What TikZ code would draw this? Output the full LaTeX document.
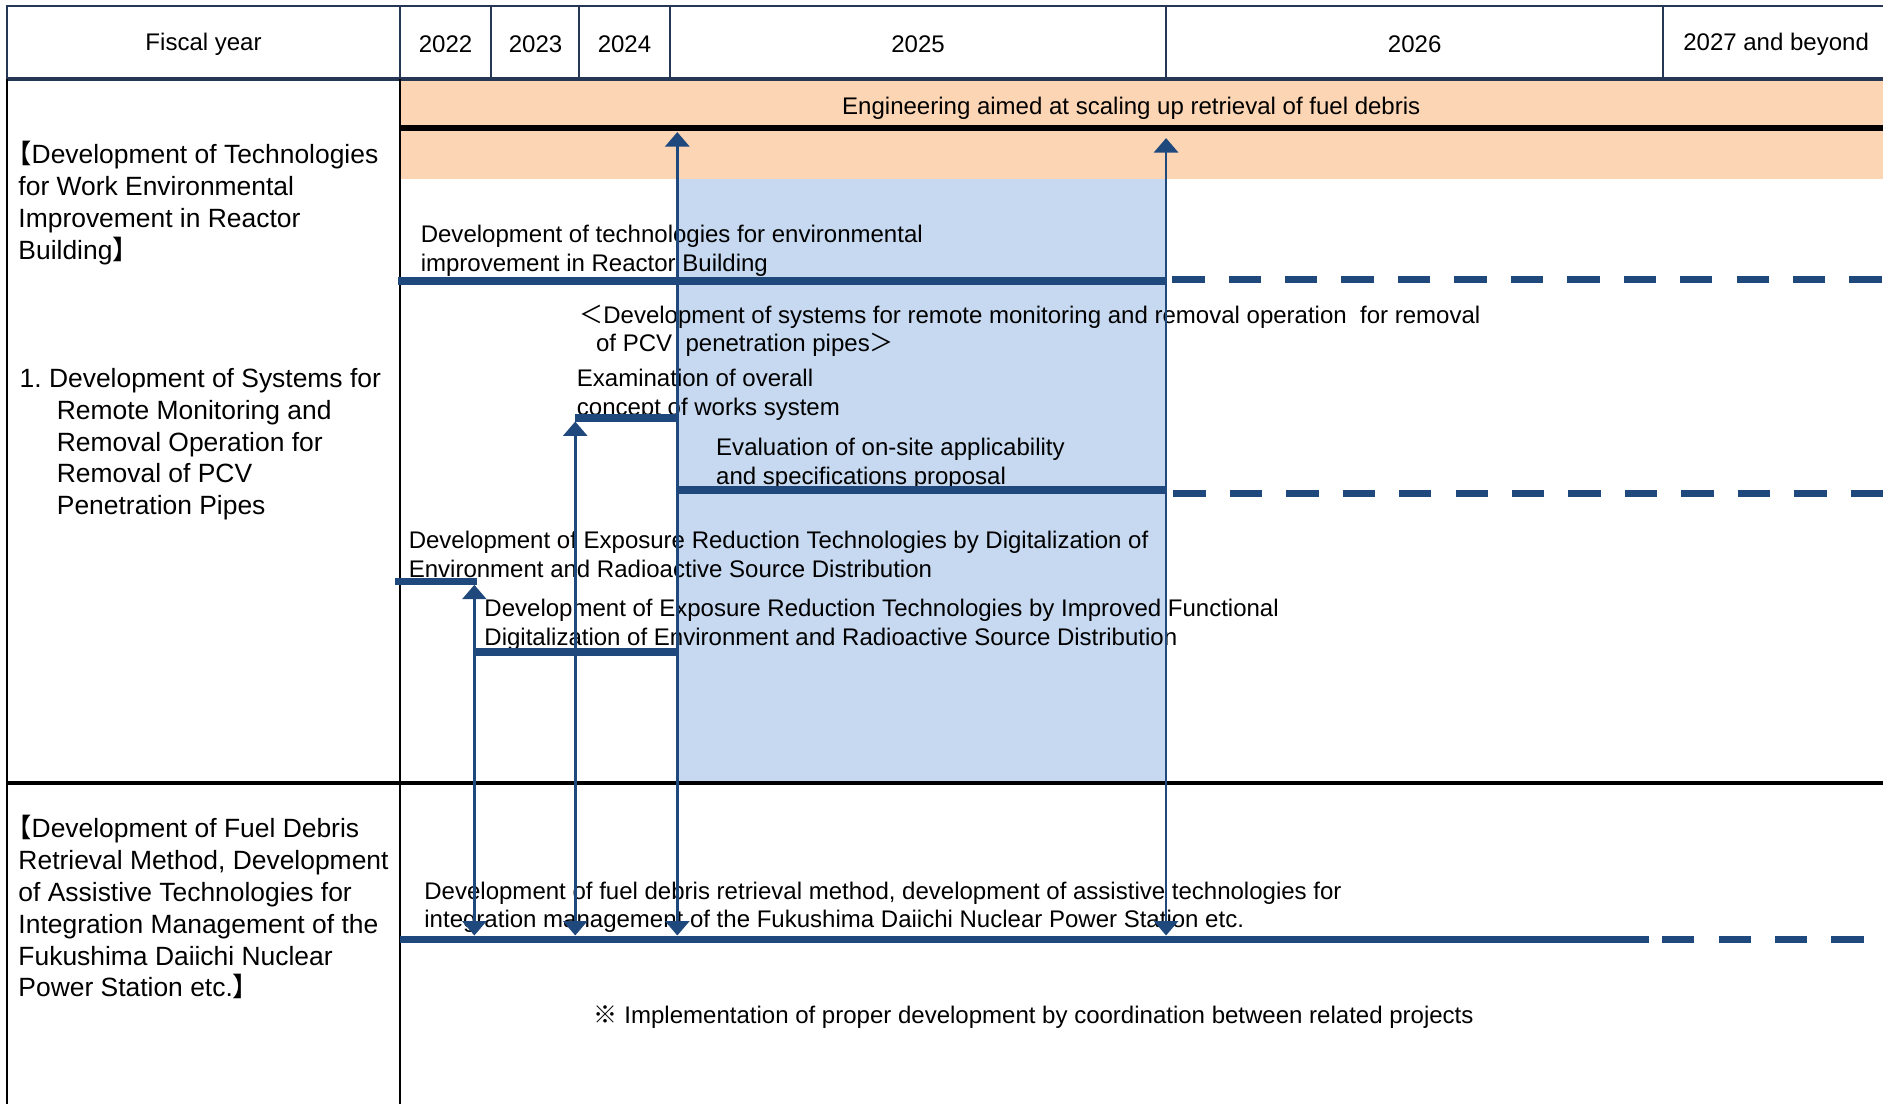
\documentclass[tikz,border=0pt]{standalone}
\usepackage{fontspec}
\setmainfont{Liberation Sans}
\newfontfamily\cjkfont{Noto Sans CJK JP}
\usetikzlibrary{arrows.meta}
\definecolor{barcolor}{RGB}{31,73,125}
\definecolor{headcolor}{RGB}{38,55,85}
\definecolor{engcolor}{RGB}{252,213,180}
\definecolor{focuscolor}{RGB}{198,217,240}

\begin{document}
\begin{tikzpicture}[
    x=0.5pt, y=-0.5pt,
    hdr/.style={draw=headcolor, line width=1pt},
    htext/.style={font=\fontsize{10}{12}\selectfont, inner sep=0pt},
    task/.style={font=\fontsize{10}{12}\selectfont, align=left, anchor=west, inner sep=0pt},
    rowhead/.style={font=\fontsize{11}{13.25}\selectfont, align=left, anchor=west, inner sep=0pt},
    bar/.style={draw=barcolor, line width=3pt},
    plan/.style={bar, dash pattern=on 13.5pt off 10pt},
    link/.style={draw=barcolor, line width=1.1pt, {Triangle[width=10pt,length=6pt]}-{Triangle[width=10pt,length=6pt]}}
]
    \useasboundingbox (0,0) rectangle (1568,919);
    \clip (0,0) rectangle (1568,919);

    % Background bands
    \fill[engcolor] (333,67) rectangle (1590,149);
    \fill[focuscolor] (563,149) rectangle (971,652);

    % Header row
    \draw[hdr] (6,5) rectangle (333,65);
    \draw[hdr] (333,5) rectangle (409,65);
    \draw[hdr] (409,5) rectangle (482,65);
    \draw[hdr] (482,5) rectangle (558,65);
    \draw[hdr] (558,5) rectangle (971,65);
    \draw[hdr] (971,5) rectangle (1385,65);
    \draw[hdr] (1385,5) rectangle (1600,65);
    \draw[headcolor, line width=1.5pt] (6,66) -- (1600,66);
    \node[htext] (fy) at (169.5,37) {Fiscal year};
    \node[htext] (y22) at (371,37) {2022};
    \node[htext] (y23) at (446,37) {2023};
    \node[htext] (y24) at (520,37) {2024};
    \node[htext] (y25) at (764.5,37) {2025};
    \node[htext] (y26) at (1178,37) {2026};
    \node[htext] (y27) at (1479,37) {2027 and beyond};

    % Body grid
    \draw[line width=1pt] (6,66) -- (6,930);
    \draw[line width=0.8pt] (333,66) -- (333,930);
    \draw[line width=1.3pt] (6,652) -- (1600,652);

    % Row headings
    \node[rowhead] (sec1) at (15,169) {\hspace*{-5.5pt}{\cjkfont 【}Development of Technologies\\for Work Environmental\\Improvement in Reactor\\Building{\cjkfont 】}};
    \node[rowhead] (sec2) at (16,370) {1.\ Development of Systems for\\\hspace*{15.5pt}Remote Monitoring and\\\hspace*{15.5pt}Removal Operation for\\\hspace*{15.5pt}Removal of PCV\\\hspace*{15.5pt}Penetration Pipes};
    \node[rowhead] (sec3) at (15,755.5) {\hspace*{-5.5pt}{\cjkfont 【}Development of Fuel Debris\\Retrieval Method, Development\\of Assistive Technologies for\\Integration Management of the\\Fukushima Daiichi Nuclear\\Power Station etc.{\cjkfont 】}};

    % Engineering band
    \node[htext] (eng) at (942,90) {Engineering aimed at scaling up retrieval of fuel debris};
    \draw[line width=2.5pt] (333,107) -- (1600,107);

    % Tasks
    \node[task] (env) at (350,208.5) {Development of technologies for environmental\\improvement in Reactor Building};
    \node[task] (pcv) at (482,275.5) {{\cjkfont ＜}Development of systems for remote monitoring and removal operation\ \ for removal\\\hspace*{7pt}of PCV\ \ penetration pipes{\cjkfont ＞}};
    \node[task] (exam) at (480,329) {Examination of overall\\concept of works system};
    \node[task] (eval) at (596,386.5) {Evaluation of on-site applicability\\and specifications proposal};
    \node[task] (dig) at (340,461.5) {Development of Exposure Reduction Technologies by Digitalization of\\Environment and Radioactive Source Distribution};
    \node[task] (imp) at (403,520) {Development of Exposure Reduction Technologies by Improved Functional\\Digitalization of Environment and Radioactive Source Distribution};
    \node[task] (debris) at (353,755.5) {Development of fuel debris retrieval method, development of assistive technologies for\\integration management of the Fukushima Daiichi Nuclear Power Station etc.};
    \node[task] (note) at (494,847) {{\cjkfont ※} Implementation of proper development by coordination between related projects};

    % Bars
    \draw[bar] (331,234) -- (971,234);
    \draw[plan] (976,233) -- (1600,233);
    \draw[bar] (479,348) -- (563,348);
    \draw[bar] (563,408) -- (971,408);
    \draw[plan] (977,411) -- (1600,411);
    \draw[bar] (329,484) -- (397,484);
    \draw[bar] (395,543) -- (565,543);
    \draw[bar] (333,782) -- (1373,782);
    \draw[plan] (1384,782) -- (1556,782);

    % Link points
    \coordinate (engA) at (564,110);
    \coordinate (engB) at (971,115);
    \coordinate (digE) at (395,487);
    \coordinate (examS) at (479,351);
    \coordinate (debA) at (395,779);
    \coordinate (debB) at (479,779);
    \coordinate (debC) at (564,779);
    \coordinate (debD) at (971,779);

    % Coordination arrows
    \draw[link] (digE) -- (debA);
    \draw[link] (examS) -- (debB);
    \draw[link] (engA) -- (debC);
    \draw[link] (engB) -- (debD);
\end{tikzpicture}
\end{document}
